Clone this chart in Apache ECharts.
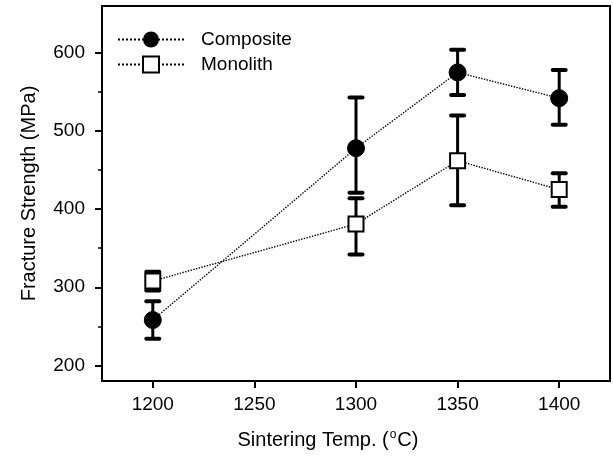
<!DOCTYPE html>
<html>
<head>
<meta charset="utf-8">
<script src="https://cdn.jsdelivr.net/npm/echarts@6/dist/echarts.min.js"></script>
<style>
  html, body { margin: 0; padding: 0; background: #fff; }
  #chart { width: 613px; height: 456px; }
</style>
</head>
<body>
<div id="chart"></div>
<script>
// sintering temperatures (°C)
const temps = [1200, 1300, 1350, 1400]

// fracture strength (MPa), mean + error bar ends
const compositeMean = [258, 478, 575, 542]
const compositeHigh = [282, 543, 604, 578]
const compositeLow = [234, 421, 546, 508]

const monolithMean = [308, 381, 462, 425]
const monolithHigh = [320, 414, 520, 446]
const monolithLow = [296, 342, 405, 403]

const xTicks = [1200, 1250, 1300, 1350, 1400]
const yTicks = [200, 300, 400, 500, 600]
const yMinorTicks = [250, 350, 450, 550]

const chart = echarts.init(document.getElementById('chart'))

const pairs = (ys) => temps.map((t, i) => [t, ys[i]])
const bars = (hi, lo) => temps.map((t, i) => [t, hi[i], lo[i]])

// error bar: vertical stroke with caps, placed via the axis scales
const renderErrorBar = (params, api) => {
  const x = api.value(0)
  const top = api.coord([x, api.value(1)])
  const bottom = api.coord([x, api.value(2)])
  const half = 6.5
  const capStyle = { stroke: '#000', lineWidth: 4, lineCap: 'round' }
  return {
    type: 'group',
    children: [
      { type: 'line', shape: { x1: top[0], y1: top[1], x2: bottom[0], y2: bottom[1] }, style: { stroke: '#000', lineWidth: 3 } },
      { type: 'line', shape: { x1: top[0] - half, y1: top[1], x2: top[0] + half, y2: top[1] }, style: capStyle },
      { type: 'line', shape: { x1: bottom[0] - half, y1: bottom[1], x2: bottom[0] + half, y2: bottom[1] }, style: capStyle }
    ]
  }
}

const font = 'Liberation Sans, Arial, sans-serif'

const option = {
  animation: false,
  backgroundColor: '#fff',
  grid: {
    left: 102,
    right: 3,
    top: 6,
    bottom: 75,
    show: true,
    borderColor: '#000',
    borderWidth: 2
  },
  legend: {
    orient: 'vertical',
    left: 112,
    top: 25,
    itemWidth: 66,
    itemHeight: 20,
    itemGap: 6,
    textStyle: { color: '#000', fontSize: 19, fontFamily: font, padding: [0, 0, 0, 12] },
    data: ['Composite', 'Monolith']
  },
  xAxis: {
    type: 'value',
    min: 1175,
    max: 1425,
    name: '{t|Sintering Temp. (}{s|o}{t|C)}',
    nameLocation: 'middle',
    nameGap: 48,
    nameTextStyle: {
      padding: [0, 56, 0, 0],
      rich: {
        t: { fontSize: 20, color: '#000', fontFamily: font },
        s: { fontSize: 12, color: '#000', fontFamily: font, verticalAlign: 'top', padding: [0, 1, 10, 1] }
      }
    },
    axisLine: { lineStyle: { color: '#000', width: 2 } },
    axisTick: { inside: false, length: 7, lineStyle: { width: 2 }, customValues: xTicks },
    axisLabel: {
      color: '#000', fontSize: 19, fontFamily: font, margin: 14,
      customValues: xTicks, formatter: v => String(v)
    },
    splitLine: { show: false }
  },
  yAxis: [
    {
      type: 'value',
      min: 180,
      max: 660,
      name: 'Fracture Strength (MPa)',
      nameLocation: 'middle',
      nameGap: 63,
      nameTextStyle: { color: '#000', fontSize: 20, fontFamily: font },
      axisLine: { lineStyle: { color: '#000', width: 2 } },
      axisTick: { length: 7, lineStyle: { width: 2 }, customValues: yTicks },
      axisLabel: { color: '#000', fontSize: 19, fontFamily: font, margin: 17, customValues: yTicks },
      splitLine: { show: false }
    },
    {
      type: 'value',
      position: 'left',
      min: 180,
      max: 660,
      axisLine: { show: false },
      axisTick: { show: true, length: 4, lineStyle: { color: '#000', width: 1.5 }, customValues: yMinorTicks },
      axisLabel: { show: false },
      splitLine: { show: false }
    }
  ],
  series: [
    {
      type: 'custom',
      name: 'compositeErr',
      renderItem: renderErrorBar,
      data: bars(compositeHigh, compositeLow),
      encode: { x: 0, y: [1, 2] },
      z: 1
    },
    {
      type: 'custom',
      name: 'monolithErr',
      renderItem: renderErrorBar,
      data: bars(monolithHigh, monolithLow),
      encode: { x: 0, y: [1, 2] },
      z: 1
    },
    {
      name: 'Composite',
      type: 'line',
      data: pairs(compositeMean),
      symbol: 'circle',
      symbolSize: 17,
      itemStyle: { color: '#000', borderColor: '#000' },
      lineStyle: { color: '#000', width: 1.4, type: 'dotted' },
      z: 3
    },
    {
      name: 'Monolith',
      type: 'line',
      data: pairs(monolithMean),
      symbol: 'rect',
      symbolSize: 15,
      itemStyle: { color: '#fff', borderColor: '#000', borderWidth: 2 },
      lineStyle: { color: '#000', width: 1.4, type: 'dotted' },
      z: 3
    }
  ]
}

chart.setOption(option)
</script>
</body>
</html>
